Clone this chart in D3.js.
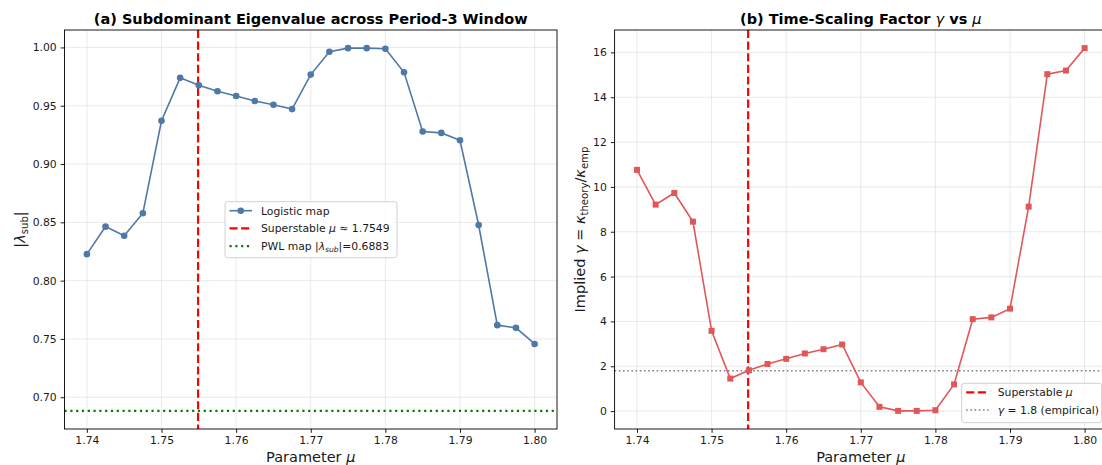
<!DOCTYPE html>
<html>
<head>
<meta charset="utf-8">
<script src="https://cdn.jsdelivr.net/npm/d3@7"></script>
<style>
  html, body { margin: 0; padding: 0; background: #fff; overflow: hidden; }
  svg { display: block; font-family: "DejaVu Sans", sans-serif; }
</style>
</head>
<body>
<svg id="fig" width="1102" height="465"></svg>
<script>
// Parameter sweep across the period-3 window
const mu = [1.74, 1.7425, 1.745, 1.7475, 1.75, 1.7525, 1.755, 1.7575, 1.76, 1.7625,
            1.765, 1.7675, 1.77, 1.7725, 1.775, 1.7775, 1.78, 1.7825, 1.785, 1.7875,
            1.79, 1.7925, 1.795, 1.7975, 1.80];

// |lambda_sub| for the logistic map
const lambdaSub = [0.8227, 0.8463, 0.8385, 0.8578, 0.9371, 0.9739, 0.9675, 0.9624, 0.9583, 0.9540,
                   0.9509, 0.9471, 0.9767, 0.9963, 0.9994, 0.9994, 0.9989, 0.9787, 0.9279, 0.9267,
                   0.9204, 0.8477, 0.7618, 0.7595, 0.7457];

// Implied time-scaling factor gamma = kappa_theory / kappa_emp
const gammaImplied = [10.76, 9.21, 9.73, 8.45, 3.58, 1.45, 1.82, 2.10, 2.33, 2.57,
                      2.76, 2.97, 1.28, 0.19, 0.01, 0.01, 0.04, 1.19, 4.10, 4.18,
                      4.57, 9.12, 15.03, 15.19, 16.19];

const muSuperstable = 1.7549;
const pwlLambda = 0.6883;
const gammaEmpirical = 1.8;

const xTicks = [1.74, 1.75, 1.76, 1.77, 1.78, 1.79, 1.80];
const yTicksA = [0.70, 0.75, 0.80, 0.85, 0.90, 0.95, 1.00];
const yTicksB = [0, 2, 4, 6, 8, 10, 12, 14, 16];

const svg = d3.select("#fig");
const BLUE = "#4e79a7", RED = "#e15759";
const TXT = "#1a1a1a";

// Helper: write a text element made of styled runs (italic, bold, subscripts)
function rich(sel, parts, size) {
  let inSub = false;
  parts.forEach(p => {
    const ts = sel.append("tspan").text(p.t);
    if (p.it) ts.attr("font-style", "italic");
    if (p.w) ts.attr("font-weight", p.w);
    if (p.sub) {
      ts.attr("font-size", size * 0.7);
      if (!inSub) ts.attr("dy", size * 0.22);
      inSub = true;
    } else if (inSub) {
      ts.attr("dy", -size * 0.22);
      inSub = false;
    }
  });
  return sel;
}

function padDomain(lo, hi) {
  const p = (hi - lo) * 0.05;
  return [lo - p, hi + p];
}

const plotTop = 30, plotBottom = 429;

function panel(x0, x1, yDomain, yTicks, yFmt) {
  const g = svg.append("g");
  const x = d3.scaleLinear().domain(padDomain(d3.min(mu), d3.max(mu))).range([x0, x1]);
  const y = d3.scaleLinear().domain(yDomain).range([plotBottom, plotTop]);

  // grid
  const grid = g.append("g").attr("stroke", "#b0b0b0").attr("stroke-opacity", 0.3).attr("stroke-width", 0.9);
  xTicks.forEach(t => grid.append("line").attr("x1", x(t)).attr("x2", x(t)).attr("y1", plotTop).attr("y2", plotBottom));
  yTicks.forEach(t => grid.append("line").attr("x1", x0).attr("x2", x1).attr("y1", y(t)).attr("y2", y(t)));

  // axes
  const ax = g.append("g").attr("transform", `translate(0,${plotBottom})`)
    .call(d3.axisBottom(x).tickValues(xTicks).tickFormat(d3.format(".2f")).tickSize(3.8).tickPadding(4));
  const ay = g.append("g").attr("transform", `translate(${x0},0)`)
    .call(d3.axisLeft(y).tickValues(yTicks).tickFormat(yFmt).tickSize(3.8).tickPadding(4));
  [ax, ay].forEach(a => {
    a.select(".domain").remove();
    a.selectAll("line").attr("stroke", "#000").attr("stroke-width", 0.9);
    a.selectAll("text").attr("font-family", "DejaVu Sans").attr("font-size", 10.8).attr("fill", TXT);
  });
  return { g, x, y };
}

function frame(g, x0, x1) {
  g.append("rect").attr("x", x0).attr("y", plotTop).attr("width", x1 - x0).attr("height", plotBottom - plotTop)
    .attr("fill", "none").attr("stroke", "#000").attr("stroke-width", 0.9);
}

// ---------- (a) subdominant eigenvalue ----------
const A = panel(64.5, 557, padDomain(Math.min(d3.min(lambdaSub), pwlLambda), d3.max(lambdaSub)), yTicksA, d3.format(".2f"));

A.g.append("line").attr("x1", A.x.range()[0]).attr("x2", A.x.range()[1])
  .attr("y1", A.y(pwlLambda)).attr("y2", A.y(pwlLambda))
  .attr("stroke", "green").attr("stroke-width", 2.2).attr("stroke-dasharray", "2.2,3.6");
A.g.append("line").attr("x1", A.x(muSuperstable)).attr("x2", A.x(muSuperstable))
  .attr("y1", plotTop).attr("y2", plotBottom)
  .attr("stroke", "red").attr("stroke-width", 2.2).attr("stroke-dasharray", "8.1,3.5");

const lineA = d3.line().x((d, i) => A.x(mu[i])).y(d => A.y(d));
A.g.append("path").datum(lambdaSub).attr("d", lineA).attr("fill", "none")
  .attr("stroke", BLUE).attr("stroke-width", 1.6);
A.g.selectAll("circle.pt").data(lambdaSub).join("circle").attr("class", "pt")
  .attr("cx", (d, i) => A.x(mu[i])).attr("cy", d => A.y(d)).attr("r", 3.3).attr("fill", BLUE);
frame(A.g, 64.5, 557);

// ---------- (b) time-scaling factor ----------
const B = panel(614.6, 1107, padDomain(d3.min(gammaImplied), d3.max(gammaImplied)), yTicksB, d3.format("d"));

B.g.append("line").attr("x1", B.x.range()[0]).attr("x2", B.x.range()[1])
  .attr("y1", B.y(gammaEmpirical)).attr("y2", B.y(gammaEmpirical))
  .attr("stroke", "gray").attr("stroke-width", 1.6).attr("stroke-dasharray", "1.6,2.6");
B.g.append("line").attr("x1", B.x(muSuperstable)).attr("x2", B.x(muSuperstable))
  .attr("y1", plotTop).attr("y2", plotBottom)
  .attr("stroke", "red").attr("stroke-width", 2.2).attr("stroke-dasharray", "8.1,3.5");

const lineB = d3.line().x((d, i) => B.x(mu[i])).y(d => B.y(d));
B.g.append("path").datum(gammaImplied).attr("d", lineB).attr("fill", "none")
  .attr("stroke", RED).attr("stroke-width", 1.6);
B.g.selectAll("rect.pt").data(gammaImplied).join("rect").attr("class", "pt")
  .attr("x", (d, i) => B.x(mu[i]) - 3).attr("y", d => B.y(d) - 3)
  .attr("width", 6).attr("height", 6).attr("fill", RED);
frame(B.g, 614.6, 1107);

// ---------- titles and axis labels ----------
const T = 14.5;
rich(svg.append("text").attr("x", (64.5 + 557) / 2).attr("y", 24).attr("text-anchor", "middle")
  .attr("font-size", T).attr("font-weight", "bold").attr("fill", "#000"),
  [{ t: "(a) Subdominant Eigenvalue across Period-3 Window" }], T);
rich(svg.append("text").attr("x", (614.6 + 1107) / 2).attr("y", 24).attr("text-anchor", "middle")
  .attr("font-size", T).attr("font-weight", "bold").attr("fill", "#000"),
  [{ t: "(b) Time-Scaling Factor " }, { t: "γ", it: true, w: "normal" }, { t: " vs " }, { t: "μ", it: true, w: "normal" }], T);

const L = 14.5;
[(64.5 + 557) / 2, (614.6 + 1107) / 2].forEach(cx => {
  rich(svg.append("text").attr("x", cx).attr("y", 462).attr("text-anchor", "middle")
    .attr("font-size", L).attr("fill", TXT),
    [{ t: "Parameter " }, { t: "μ", it: true }], L);
});

rich(svg.append("text").attr("transform", `translate(25,${(plotTop + plotBottom) / 2}) rotate(-90)`)
  .attr("text-anchor", "middle").attr("font-size", L).attr("fill", TXT),
  [{ t: "|" }, { t: "λ", it: true }, { t: "sub", sub: true }, { t: "|" }], L);

rich(svg.append("text").attr("transform", `translate(585,${(plotTop + plotBottom) / 2}) rotate(-90)`)
  .attr("text-anchor", "middle").attr("font-size", L).attr("fill", TXT),
  [{ t: "Implied " }, { t: "γ", it: true }, { t: " = " }, { t: "κ", it: true },
   { t: "theory", sub: true }, { t: "/" }, { t: "κ", it: true }, { t: "emp", sub: true }], L);

// ---------- legends ----------
const F = 10.8;
function legend(bx, by, bw, bh, rows) {
  const g = svg.append("g");
  g.append("rect").attr("x", bx).attr("y", by).attr("width", bw).attr("height", bh)
    .attr("rx", 2.5).attr("fill", "#fff").attr("fill-opacity", 0.8)
    .attr("stroke", "#cccccc").attr("stroke-width", 0.9);
  rows.forEach((r, i) => {
    const cy = by + 9 + i * 17.7;
    const hx0 = bx + 4.5, hx1 = bx + 27;
    g.append("line").attr("x1", hx0).attr("x2", hx1).attr("y1", cy).attr("y2", cy)
      .attr("stroke", r.color).attr("stroke-width", r.sw).attr("stroke-dasharray", r.dash || null);
    if (r.marker) g.append("circle").attr("cx", (hx0 + hx1) / 2).attr("cy", cy).attr("r", 3.3).attr("fill", r.color);
    rich(g.append("text").attr("x", bx + 36).attr("y", cy + 3.9).attr("font-size", F).attr("fill", TXT), r.parts, F);
  });
}

legend(225, 201.7, 172, 56, [
  { color: BLUE, sw: 1.6, marker: true, parts: [{ t: "Logistic map" }] },
  { color: "red", sw: 2.2, dash: "8.1,3.5", parts: [{ t: "Superstable " }, { t: "μ", it: true }, { t: " ≈ 1.7549" }] },
  { color: "green", sw: 2.2, dash: "2.2,3.6", parts: [{ t: "PWL map |" }, { t: "λ", it: true }, { t: "sub", it: true, sub: true }, { t: "|=0.6883" }] }
]);

legend(961.7, 383.3, 140, 39.4, [
  { color: "red", sw: 2.2, dash: "8.1,3.5", parts: [{ t: "Superstable " }, { t: "μ", it: true }] },
  { color: "gray", sw: 1.6, dash: "1.6,2.6", parts: [{ t: "γ", it: true }, { t: " = 1.8 (empirical)" }] }
]);
</script>
</body>
</html>
